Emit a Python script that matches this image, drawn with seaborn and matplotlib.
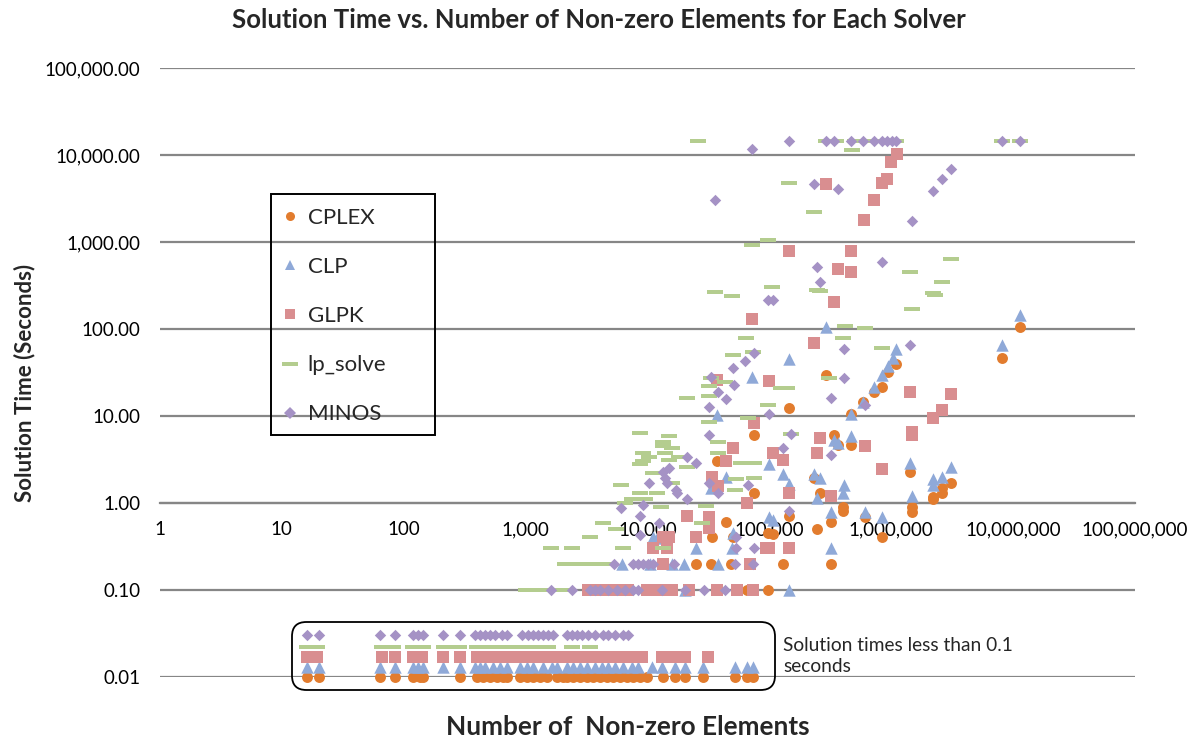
import numpy as np
import pandas as pd
import matplotlib
matplotlib.use('Agg')
import matplotlib.pyplot as plt
import seaborn as sns
from matplotlib.lines import Line2D
from matplotlib.patches import FancyBboxPatch, Rectangle
from matplotlib.path import Path
from matplotlib.ticker import FixedLocator, FuncFormatter, NullLocator

sns.set_style("white")
plt.rcParams["font.family"] = ["Lato", "DejaVu Sans"]

solvers = ["CPLEX", "CLP", "GLPK", "lp_solve", "MINOS"]

# solved in >= 0.1 s: (non-zero elements, seconds)
cplex_nnz = [11350000, 8070000, 1090000, 940000, 840000, 720000, 585000, 467000, 290000, 145000,
             75000, 338000, 365000, 467000, 232000, 260000, 401000, 401000, 320000, 320000,
             245000, 607000, 840000, 1420000, 1475000, 1475000, 2190000, 2190000, 2600000, 2600000,
             3080000, 37000, 75000, 44000, 34000, 50000, 98000, 107000, 145000, 129000,
             25000, 33000, 48000, 97000, 65000, 3700, 4300]
cplex_time = [105, 46, 40, 32, 21.5, 19, 14.5, 10.6, 29.6, 12.3,
              6.0, 6.0, 4.6, 4.6, 1.94, 1.3, 0.9, 0.81, 0.6, 0.2,
              0.5, 0.69, 0.41, 2.27, 0.9, 0.79, 1.17, 1.1, 1.49, 1.3,
              1.7, 3.0, 1.3, 0.6, 0.41, 0.41, 0.45, 0.44, 0.7, 0.2,
              0.2, 0.2, 0.2, 0.1, 0.1, 0.1, 0.1]

clp_nnz = [11350000, 8070000, 1090000, 1030000, 940000, 840000, 720000, 585000, 467000, 290000,
           145000, 72000, 37000, 338000, 365000, 467000, 232000, 260000, 245000, 409000,
           401000, 320000, 607000, 840000, 320000, 1420000, 1475000, 2190000, 2190000, 2600000,
           3080000, 99000, 129000, 145000, 99000, 107000, 44000, 33000, 50000, 11000,
           12000, 25000, 49000, 6200, 10500, 16000, 20000, 38000, 20500, 145000]
clp_time = [145, 65, 59, 46, 37.6, 29.6, 21.5, 14.5, 10.6, 105,
            45, 28, 10.3, 5.3, 4.9, 5.9, 2.15, 1.94, 1.14, 1.6,
            1.3, 0.79, 0.79, 0.69, 0.3, 2.9, 1.2, 1.9, 1.6, 2.0,
            2.6, 2.8, 2.15, 1.65, 0.69, 0.64, 2.0, 1.5, 0.45, 0.41,
            0.40, 0.3, 0.3, 0.2, 0.2, 0.2, 0.2, 0.2, 0.1, 0.1]

glpk_nnz = [1110000, 1000000, 920000, 840000, 720000, 600000, 290000, 467000, 365000, 467000,
            338000, 232000, 145000, 72000, 99000, 37000, 1420000, 3080000, 2600000, 2190000,
            1475000, 1475000, 840000, 260000, 245000, 607000, 320000, 129000, 107000, 145000,
            99000, 145000, 75000, 50000, 44000, 34000, 38000, 65000, 21000, 32000,
            32000, 13500, 15000, 25000, 11000, 14500, 93000, 13500, 70000, 3250,
            3800, 4400, 5000, 5900, 6900, 9900, 11000, 13400, 16000, 22000,
            37000, 54000, 73000]
glpk_time = [10260, 8200, 5300, 4800, 3000, 1800, 4700, 790, 490, 450,
             205, 69, 790, 130, 25, 26, 18.9, 17.9, 11.7, 9.5,
             6.5, 6.0, 2.45, 5.6, 3.8, 4.5, 1.2, 3.1, 3.8, 1.3,
             0.3, 0.3, 8.3, 4.3, 3.0, 2.0, 1.55, 1.0, 0.7, 0.69,
             0.52, 0.41, 0.41, 0.41, 0.3, 0.3, 0.3, 0.2, 0.2, 0.1,
             0.1, 0.1, 0.1, 0.1, 0.1, 0.1, 0.1, 0.1, 0.1, 0.1,
             0.1, 0.1, 0.1]

lpsolve_nnz = [26000, 290000, 350000, 500000, 660000, 880000, 1100000, 480000, 8070000, 11350000,
               145000, 97000, 72000, 232000, 105000, 36000, 49000, 64000, 50000, 73000,
               33000, 3080000, 1420000, 2600000, 2190000, 2300000, 1475000, 245000, 260000, 416000,
               607000, 401000, 840000, 310000, 125000, 140000, 97000, 150000, 32000, 43000,
               21000, 32000, 32000, 67000, 8600, 15000, 13500, 13500, 16000, 38000,
               9200, 14000, 10300, 18000, 38000, 9200, 15000, 58000, 75000, 8600,
               21000, 11000, 6100, 16000, 53000, 75000, 52000, 8700, 12000, 7400,
               9500, 6500, 13000, 30000, 4300, 28000, 5500, 3400, 1600, 2400,
               6300, 13500, 2100, 2800, 3600, 4700, 1000, 1300, 1700, 2200]
lpsolve_time = [14400, 14400, 14400, 14400, 14400, 14400, 14400, 11400, 14400, 14400,
                4800, 1050, 930, 2200, 300, 265, 240, 79, 50, 54,
                27, 640, 450, 350, 260, 245, 170, 280, 270, 108,
                102, 79, 60, 27, 21, 21, 13.5, 6.2, 22, 24.5,
                16, 17, 8.5, 9.5, 6.4, 5.9, 5.0, 4.5, 4.3, 5.0,
                3.8, 3.8, 3.4, 3.4, 3.8, 3.0, 3.1, 2.9, 2.9, 2.8,
                2.6, 2.2, 1.6, 1.7, 1.9, 1.95, 1.4, 1.3, 1.3, 1.1,
                1.1, 1.0, 0.9, 0.92, 0.59, 0.59, 0.5, 0.41, 0.3, 0.3,
                0.3, 0.3, 0.2, 0.2, 0.2, 0.2, 0.1, 0.1, 0.1, 0.1]

minos_nnz = [145000, 290000, 340000, 467000, 585000, 720000, 840000, 920000, 1010000, 1090000,
             8070000, 11350000, 72000, 36000, 232000, 365000, 3080000, 2600000, 2190000, 1475000,
             245000, 840000, 260000, 97000, 107000, 409000, 1420000, 75000, 63000, 50000,
             33000, 409000, 320000, 607000, 99000, 150000, 129000, 320000, 145000, 51000,
             38000, 44000, 32000, 32000, 21000, 25000, 15000, 13500, 14000, 14500,
             10300, 32000, 38000, 67000, 17000, 17500, 21000, 6100, 9200, 8600,
             12500, 8700, 53000, 53000, 75000, 5300, 7600, 8300, 9100, 10000,
             11000, 16500, 52000, 73000, 1600, 2400, 3400, 3700, 4100, 4700,
             5600, 6500, 7600, 8300, 13100, 20300, 29000, 43000]
minos_time = [14400, 14400, 14400, 14400, 14400, 14400, 14400, 14400, 14400, 14400,
              14400, 14400, 11700, 3050, 4700, 4100, 6900, 5300, 3900, 1750,
              520, 590, 350, 215, 215, 59, 65, 53, 43, 36,
              28, 27, 16, 13.4, 10.5, 6.2, 4.3, 3.6, 0.8, 22.7,
              19, 15.7, 12.7, 6.0, 3.4, 2.9, 2.5, 2.3, 1.94, 1.7,
              1.7, 1.7, 1.3, 1.6, 1.4, 1.3, 1.1, 0.88, 0.95, 0.7,
              0.59, 0.43, 0.41, 0.3, 0.3, 0.2, 0.2, 0.2, 0.2, 0.2,
              0.2, 0.2, 0.2, 0.2, 0.1, 0.1, 0.1, 0.1, 0.1, 0.1,
              0.1, 0.1, 0.1, 0.1, 0.1, 0.1, 0.1, 0.1]

# solved in < 0.1 s (only the size is known)
cplex_fast = [16, 20, 64, 85, 119, 136, 144, 289, 398, 447, 509, 582, 651, 703, 898, 1025, 1148,
              1310, 1496, 1806, 2023, 2181, 2443, 2788, 3184, 3565, 4066, 4641, 5203, 5938, 6777,
              7583, 8662, 9890, 13370, 16780, 20260, 28490, 52080, 65330, 73240]
clp_fast = [16, 20, 64, 85, 119, 131, 144, 210, 289, 384, 422, 464, 540, 615, 703, 898, 1025,
            1148, 1387, 1643, 1806, 2181, 2443, 2788, 3184, 3700, 4223, 4728, 5404, 6286, 7446,
            8333, 10870, 13120, 16780, 20260, 28490, 52080, 65330, 73240]
glpk_fast = [16, 19.5, 66, 85, 119, 141, 210, 289, 398, 447, 509, 582, 676, 772, 865, 987, 1127,
             1310, 1496, 1740, 2101, 2398, 2788, 3244, 3700, 4303, 5009, 5718, 6654, 7725, 8995,
             13120, 16150, 20260, 31280]
lpsolve_fast = [16, 19.5, 66, 82, 119, 144, 214, 284, 398, 491, 615, 772, 950, 1192, 1524, 2398, 3367]
minos_fast = [16, 20, 64, 85, 119, 131, 144, 210, 289, 384, 422, 464, 509, 560, 640, 703, 933,
              1045, 1148, 1262, 1387, 1524, 1675, 2181, 2398, 2635, 2896, 3244, 3700, 4303, 4728,
              5404, 6286, 6903]

# rows used to show the "< 0.1 s" results
fast_row = {"CPLEX": 0.010, "CLP": 0.013, "GLPK": 0.017, "lp_solve": 0.022, "MINOS": 0.030}

y_ticks = [0.01, 0.1, 1, 10, 100, 1000, 10000, 100000]
x_ticks = [1, 10, 100, 1000, 10000, 100000, 1000000, 10000000, 100000000]

colors = {"CPLEX": "#E27C2E", "CLP": "#8FA9D8", "GLPK": "#D98E90",
          "lp_solve": "#B4CD8F", "MINOS": "#A592C5"}
dash = Path([(-1, -0.28), (1, -0.28), (1, 0.28), (-1, 0.28), (-1, -0.28)],
            [Path.MOVETO, Path.LINETO, Path.LINETO, Path.LINETO, Path.CLOSEPOLY])
markers = {"CPLEX": "o", "CLP": "^", "GLPK": "s", "lp_solve": dash, "MINOS": "D"}
sizes = {"CPLEX": 62, "CLP": 80, "GLPK": 70, "lp_solve": 120, "MINOS": 34}

series = [
    ("CPLEX", cplex_nnz, cplex_time, cplex_fast),
    ("CLP", clp_nnz, clp_time, clp_fast),
    ("GLPK", glpk_nnz, glpk_time, glpk_fast),
    ("lp_solve", lpsolve_nnz, lpsolve_time, lpsolve_fast),
    ("MINOS", minos_nnz, minos_time, minos_fast),
]
frames = []
for name, nnz, t, fast in series:
    frames.append(pd.DataFrame({"solver": name, "nnz": nnz, "shown": t}))
    frames.append(pd.DataFrame({"solver": name, "nnz": fast, "shown": fast_row[name]}))
df = pd.concat(frames, ignore_index=True)

W, H = 1197, 740
fig = plt.figure(figsize=(W / 100, H / 100), dpi=100)
ax = fig.add_axes([160 / W, 1 - 677 / H, 975 / W, 609 / H])

for name in solvers:
    sns.scatterplot(data=df[df.solver == name], x="nnz", y="shown", marker=markers[name],
                    color=colors[name], s=sizes[name], linewidth=0, clip_on=False,
                    legend=False, ax=ax, zorder=3)

ax.set_xscale("log")
ax.set_yscale("log")
ax.set_xlim(1, 1e8)
ax.set_ylim(0.01, 1e5)
ax.set_xlabel("")
ax.set_ylabel("")

ax.yaxis.set_major_locator(FixedLocator(y_ticks))
ax.yaxis.set_minor_locator(NullLocator())
ax.yaxis.set_major_formatter(FuncFormatter(lambda v, p: f"{v:,.2f}"))
ax.xaxis.set_major_locator(FixedLocator(x_ticks))
ax.xaxis.set_minor_locator(NullLocator())
ax.xaxis.set_major_formatter(FuncFormatter(lambda v, p: f"{v:,.0f}"))

ax.yaxis.grid(True, color="#868686", lw=1.6)
ax.xaxis.grid(False)
ax.set_axisbelow(True)
for s in ["top", "right", "left"]:
    ax.spines[s].set_visible(False)
ax.spines["bottom"].set_position(("data", 1))
ax.spines["bottom"].set_color("#868686")
ax.spines["bottom"].set_linewidth(1.6)
ax.tick_params(axis="y", length=0, labelsize=13.5, pad=14, labelcolor="black")
ax.tick_params(axis="x", length=6, width=1.6, color="#868686", direction="out",
               labelsize=13.5, pad=7, labelcolor="black")

# legend: entries without frame, frame drawn as its own box
handles = [Line2D([], [], marker=markers[n], color=colors[n], linestyle="none",
                  markersize=11 if n == "lp_solve" else 6.5, markeredgewidth=0) for n in solvers]
leg = ax.legend(handles, solvers, loc="upper left",
                bbox_to_anchor=((280 - 160) / 975, (677 - 208) / 609),
                frameon=False, fontsize=16, labelspacing=1.31, handlelength=0.9,
                handletextpad=0.35, borderpad=0, borderaxespad=0)
fig.patches.append(Rectangle((271 / W, 1 - 435 / H), 164 / W, 241 / H,
                             transform=fig.transFigure, fill=False, edgecolor="black",
                             lw=1.4, zorder=5))

box = FancyBboxPatch((292 / W, 1 - 690 / H), (775 - 292) / W, 68 / H,
                     boxstyle="round,pad=0,rounding_size=0.012", mutation_aspect=W / H,
                     transform=fig.transFigure, fill=False, edgecolor="black", lw=1.3,
                     zorder=5)
fig.patches.append(box)
fig.text(783 / W, 1 - 656 / H, "Solution times less than 0.1\nseconds", fontsize=13.8,
         ha="left", va="center", linespacing=1.3)

fig.text(0.5, 1 - 20 / H, "Solution Time vs. Number of Non-zero Elements for Each Solver",
         fontsize=18.5, fontweight="bold", ha="center", va="center")
fig.text(25 / W, 1 - 383 / H, "Solution Time (Seconds)", fontsize=16, fontweight="bold",
         rotation=90, ha="center", va="center")
fig.text(628 / W, 1 - 727 / H, "Number of  Non-zero Elements", fontsize=18.8,
         fontweight="bold", ha="center", va="center")

fig.savefig("out.png", dpi=100)
